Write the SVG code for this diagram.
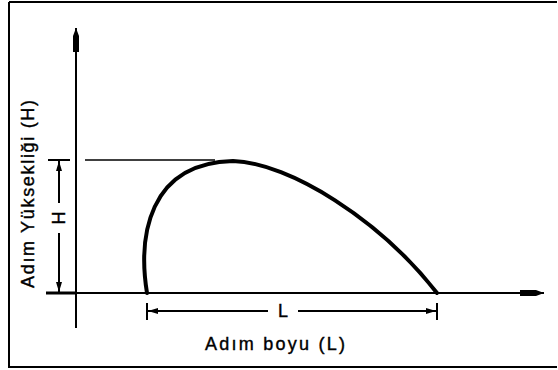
<svg xmlns="http://www.w3.org/2000/svg" width="558" height="370" viewBox="0 0 558 370">
<defs>
<style>
.ln{stroke:#000;fill:none;stroke-width:2}
.thin{stroke:#000;fill:none;stroke-width:1.5}
.curve{stroke:#000;fill:none;stroke-width:4;stroke-linecap:round}
.t{font-family:"Liberation Sans",Arial,sans-serif;font-size:18px;fill:#000;stroke:#000;stroke-width:0.4}
</style>
<marker id="ah" viewBox="0 0 10 8" refX="10" refY="4" markerWidth="10" markerHeight="8" markerUnits="userSpaceOnUse" orient="auto">
<path d="M0,1 L10,4 L0,7 Z" fill="#000"/>
</marker>
<marker id="axh" viewBox="0 0 24 8" refX="24" refY="4" markerWidth="24" markerHeight="8" markerUnits="userSpaceOnUse" orient="auto">
<path d="M0,1 L16,1 L24,4 L16,7 L0,7 Z" fill="#000"/>
</marker>
</defs>
<rect width="558" height="370" fill="#fff"/>
<g id="frame">
<path class="ln" d="M9,2 L557,2 M9,2 L9,368 M9,367 L557,367"/>
</g>
<g id="axes">
<line class="ln" x1="76" y1="328" x2="76" y2="28" marker-end="url(#axh)"/>
<line class="ln" x1="46" y1="293" x2="544" y2="293" marker-end="url(#axh)"/>
<line x1="46" y1="293" x2="76" y2="293" stroke="#000" stroke-width="3"/>
</g>
<g id="curve">
<path class="curve" d="M147,293 C138,237 148,163 233,161 C290,163 380,220 437,293"/>
</g>
<g id="connectors">
<line class="thin" x1="85" y1="160" x2="215" y2="160"/>
<line class="ln" x1="48" y1="160" x2="70" y2="160"/>
<line class="ln" x1="59" y1="203" x2="59" y2="161" marker-end="url(#ah)"/>
<line class="ln" x1="59" y1="233" x2="59" y2="292" marker-end="url(#ah)"/>
<line class="ln" x1="147" y1="303" x2="147" y2="320"/>
<line class="ln" x1="437" y1="303" x2="437" y2="320"/>
<line class="ln" x1="268" y1="311" x2="148" y2="311" marker-end="url(#ah)"/>
<line class="ln" x1="298" y1="311" x2="436" y2="311" marker-end="url(#ah)"/>
</g>
<g id="labels">
<text class="t" x="59" y="218" text-anchor="middle" dominant-baseline="central" transform="rotate(-90 59 218)">H</text>
<text class="t" x="283" y="317" text-anchor="middle">L</text>
<text class="t" x="275" y="350" text-anchor="middle" textLength="140" lengthAdjust="spacing">Adım boyu (L)</text>
<text class="t" x="34" y="194" text-anchor="middle" transform="rotate(-90 34 194)" textLength="188" lengthAdjust="spacing">Adım Yüksekliği (H)</text>
</g>
</svg>
